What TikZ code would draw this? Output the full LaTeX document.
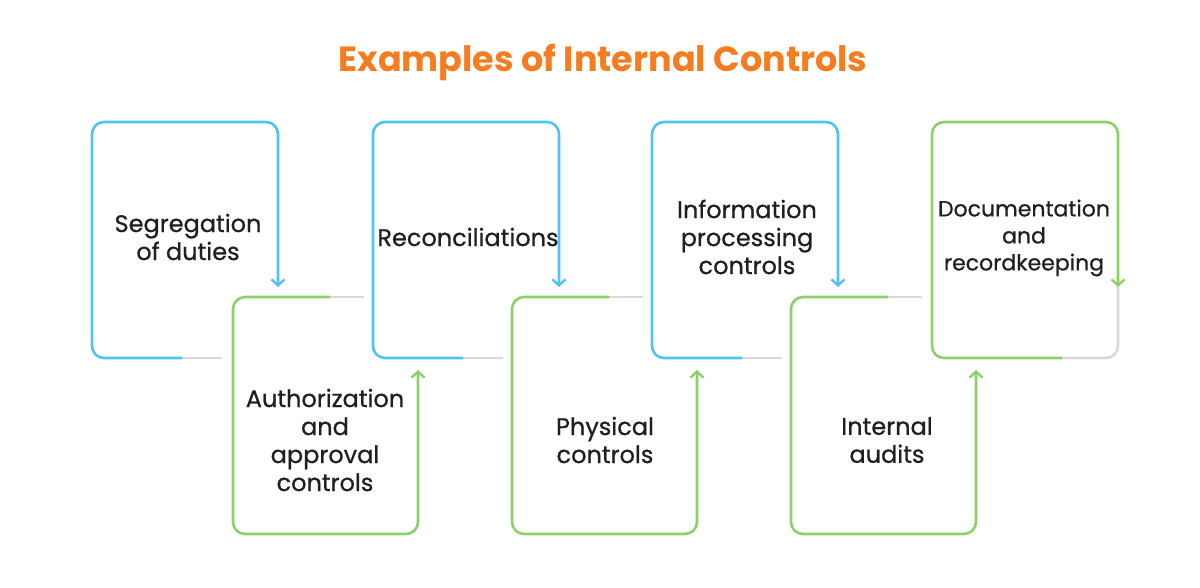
\documentclass[tikz,border=0pt]{standalone}
\usepackage{fontspec}
\setmainfont{Poppins}
\newfontfamily\med{Poppins}[FakeBold=0.7]
\usetikzlibrary{arrows.meta}
\definecolor{cblue}{HTML}{4FC3F7}
\definecolor{cgreen}{HTML}{8CD167}
\definecolor{cgray}{HTML}{D9D9D9}
\definecolor{corange}{HTML}{F57C1F}
\begin{document}
\begin{tikzpicture}[x=1pt,y=-1pt,
  edge/.style={line width=2.6pt,rounded corners=12pt},
  tip/.style={-{Straight Barb[length=6pt,width=13pt,line width=2.4pt]}},
  gr/.style={line width=2.6pt,draw=cgray},
  lbl/.style={font=\med\fontsize{24}{28}\selectfont,align=center,text=black!88}]
\useasboundingbox (0,0) rectangle (1200,587);
\node[font=\fontsize{35}{40}\selectfont\bfseries,text=corange] (title) at (603,62) {Examples of Internal Controls};
% top boxes
\foreach \x/\c in {92/cblue,373/cblue,652/cblue}{
  \draw[gr] (\x+90,358) -- (\x+130,358);
  \draw[edge,draw=\c,tip] (\x+90,358) -- (\x,358) -- (\x,122) -- (\x+186,122) -- (\x+186,287);
}
\draw[gr,rounded corners=12pt] (1062,358) -- (1118,358) -- (1118,287);
\draw[edge,draw=cgreen,tip] (1062,358) -- (932,358) -- (932,122) -- (1118,122) -- (1118,287);
% bottom boxes
\foreach \x in {233,512,791}{
  \draw[gr] (\x+97,297) -- (\x+131,297);
  \draw[edge,draw=cgreen,tip] (\x+97,297) -- (\x,297) -- (\x,534) -- (\x+185,534) -- (\x+185,370);
}
\node[lbl] (t1) at (188,237) {Segregation\\of duties};
\node[lbl] (t2) at (468,237) {Reconciliations};
\node[lbl] (t3) at (747,237) {Information\\processing\\controls};
\node[lbl,font=\med\fontsize{22}{27}\selectfont] (t4) at (1024,238) {Documentation\\and\\recordkeeping};
\node[lbl] (b1) at (325,440) {Authorization\\and\\approval\\controls};
\node[lbl] (b2) at (605,440) {Physical\\controls};
\node[lbl] (b3) at (887,440) {Internal\\audits};
\end{tikzpicture}
\end{document}
